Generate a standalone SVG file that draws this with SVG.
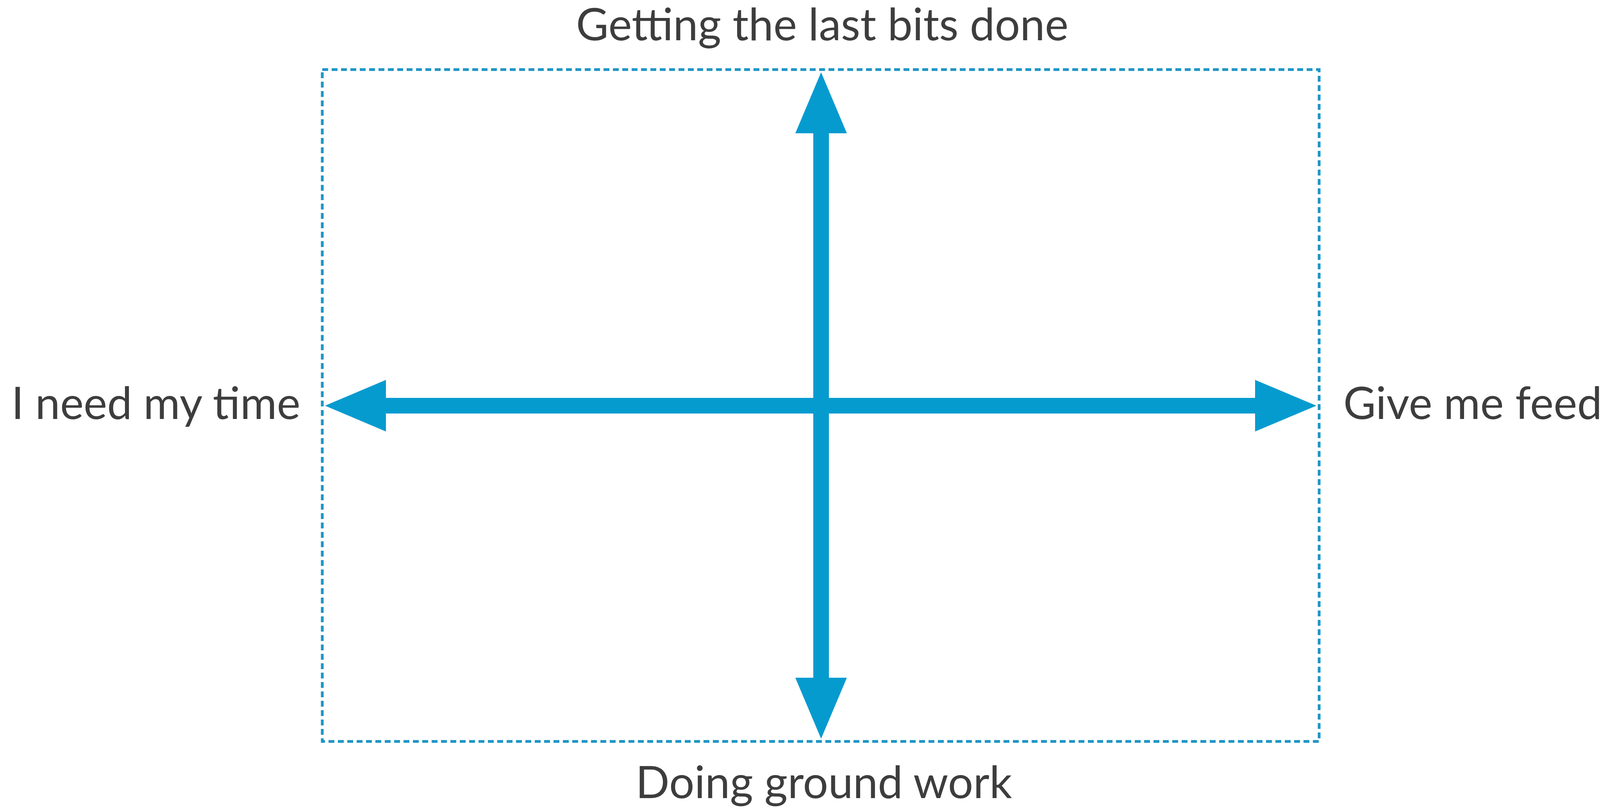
<svg xmlns="http://www.w3.org/2000/svg" width="4405" height="2075" viewBox="0 0 4405 2075">
<style>
.lbl{font-family:Lato,"Open Sans","Liberation Sans",sans-serif;font-size:114px;fill:#3d3d3d}
.frame{fill:none;stroke:#1d95c6;stroke-width:7;stroke-dasharray:15 9}
.shaft{stroke:#069bcf;stroke-width:40}
.head{fill:#069bcf}
</style>
<rect width="4405" height="2075" fill="#ffffff"/>
<g id="frame">
<rect class="frame" x="825" y="178" width="2552" height="1719"/>
</g>
<g id="connectors">
<line class="shaft" x1="2102" y1="335" x2="2102" y2="1740"/>
<polygon class="head" points="2102,185 2168,341 2036,341"/>
<polygon class="head" points="2102,1890 2168,1734 2036,1734"/>
<line class="shaft" x1="982" y1="1038" x2="3219" y2="1038"/>
<polygon class="head" points="832,1038 988,972 988,1104"/>
<polygon class="head" points="3370,1038 3213,972 3213,1104"/>
</g>
<g id="label-top"><text class="lbl" x="2105" y="103" text-anchor="middle">Getting the last bits done</text></g>
<g id="label-left"><text class="lbl" x="769" y="1072" text-anchor="end">I need my time</text></g>
<g id="label-right"><text class="lbl" x="3439" y="1072">Give me feedback</text></g>
<g id="label-bottom"><text class="lbl" x="2109" y="2042" text-anchor="middle">Doing ground work</text></g>
</svg>
